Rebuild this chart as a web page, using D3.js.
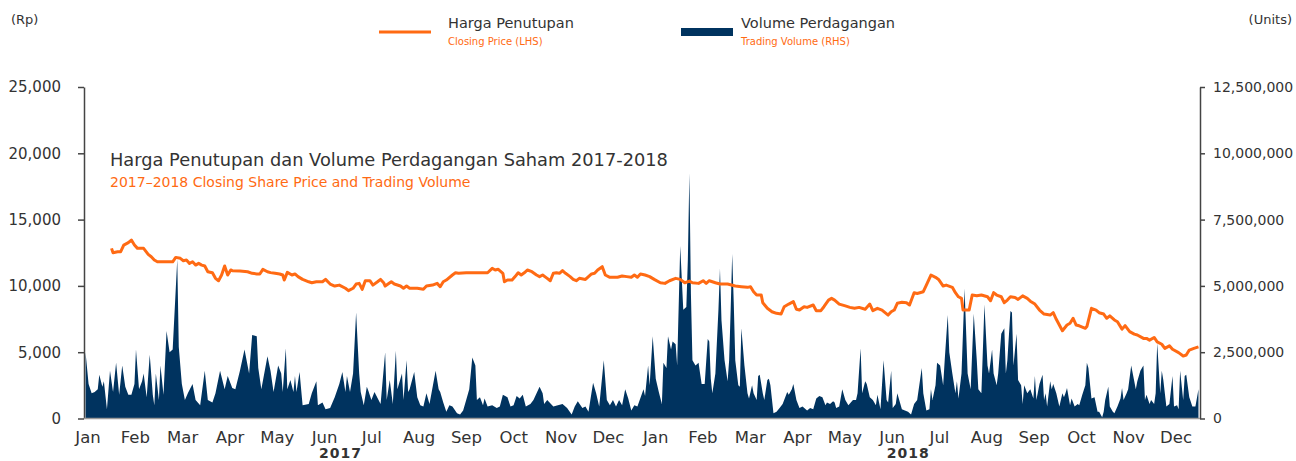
<!DOCTYPE html>
<html>
<head>
<meta charset="utf-8">
<script src="https://cdn.jsdelivr.net/npm/d3@7"></script>
<style>
  body { margin: 0; background: #fff; }
  text { font-family: "DejaVu Sans", sans-serif; }
</style>
</head>
<body>
<div id="chart"></div>
<script>
// month labels under the axis, two years
const months = ["Jan", "Feb", "Mar", "Apr", "May", "Jun", "Jul", "Aug", "Sep", "Oct", "Nov", "Dec"];
const years = ["2017", "2018"];

const priceTicks = [0, 5000, 10000, 15000, 20000, 25000];
const volumeTicks = [0, 2.5, 5, 7.5, 10, 12.5]; // million units

// closing price (Rp): [day since 1 Jan 2017, price]
const price = [
  [18, 12830], [19, 12500], [22, 12580], [24, 12580], [26, 13080], [29, 13260], [31, 13460], [33, 13080],
  [35, 12830], [39, 12830], [42, 12380], [44, 12200], [46, 11950], [48, 11820], [53, 11820], [58, 11820],
  [60, 12150], [63, 12080], [65, 11900], [67, 11950], [69, 11700], [71, 11820], [73, 11570], [75, 11700],
  [77, 11570], [79, 11500], [81, 11070], [84, 10990], [86, 10570], [88, 10390], [90, 10820], [92, 11500],
  [94, 10820], [96, 11200], [97, 11150], [102, 11120], [107, 11070], [110, 10950], [113, 10900], [115, 10900],
  [117, 11250], [120, 11070], [122, 11000], [125, 10950], [128, 10900], [130, 10820], [131, 10440], [133, 11020],
  [136, 10820], [138, 10900], [140, 10700], [143, 10490], [147, 10310], [149, 10240], [152, 10310], [156, 10310],
  [158, 10490], [161, 10140], [164, 9990], [167, 10060], [171, 9820], [173, 9640], [176, 9820], [178, 10140],
  [180, 10190], [182, 9740], [184, 10390], [187, 10390], [189, 10060], [192, 10310], [194, 10490], [196, 10240],
  [197, 9990], [201, 10310], [203, 10140], [207, 9990], [209, 9820], [211, 9990], [213, 9820], [218, 9820],
  [222, 9740], [224, 9990], [228, 10060], [231, 10190], [233, 9940], [235, 10310], [237, 10440], [241, 10820],
  [243, 10990], [245, 10950], [250, 10990], [257, 10990], [264, 10990], [267, 11320], [269, 11200], [271, 11250],
  [274, 10950], [275, 10310], [277, 10440], [280, 10440], [282, 10700], [284, 10990], [286, 10820], [288, 10990],
  [290, 11200], [293, 11070], [296, 10820], [298, 10700], [300, 10820], [303, 10570], [305, 10390], [307, 10950],
  [309, 10990], [311, 10950], [313, 11150], [315, 10950], [318, 10700], [320, 10490], [322, 10390], [324, 10570],
  [328, 10490], [330, 10700], [332, 10900], [334, 10950], [336, 11200], [339, 11450], [341, 10820], [344, 10650],
  [349, 10650], [352, 10750], [355, 10700], [358, 10650], [360, 10820], [362, 10650], [364, 10900], [367, 10820],
  [370, 10700], [373, 10490], [377, 10240], [380, 10190], [383, 10390], [387, 10570], [390, 10490], [393, 10240],
  [396, 10360], [398, 10240], [402, 10190], [405, 10390], [407, 10190], [409, 10390], [413, 10240], [416, 10140],
  [421, 10140], [426, 9990], [430, 9940], [434, 9890], [436, 9940], [438, 9560], [440, 9310], [443, 9310],
  [444, 8730], [447, 8310], [450, 8050], [453, 7930], [456, 7880], [458, 8430], [461, 8630], [464, 8810],
  [466, 8240], [468, 8180], [471, 8430], [473, 8380], [477, 8560], [479, 8130], [482, 8130], [484, 8430],
  [487, 8930], [489, 9060], [491, 8930], [494, 8630], [498, 8490], [501, 8380], [504, 8310], [507, 8380],
  [511, 8240], [514, 8630], [516, 8130], [519, 8310], [522, 8180], [526, 7800], [528, 8050], [530, 8180],
  [532, 8690], [535, 8760], [538, 8730], [540, 8560], [543, 9490], [545, 9430], [549, 9560], [551, 10060],
  [554, 10820], [557, 10650], [559, 10490], [562, 9990], [564, 10060], [568, 9890], [570, 9490], [572, 9180],
  [574, 9060], [575, 8180], [577, 8180], [579, 8180], [581, 9310], [584, 9250], [587, 9310], [591, 9180],
  [593, 8880], [595, 9490], [597, 9310], [600, 9180], [602, 8730], [604, 8930], [606, 9180], [609, 9120],
  [611, 8980], [614, 9250], [617, 9060], [619, 8850], [622, 8630], [625, 8180], [628, 7880], [632, 7800],
  [634, 7980], [636, 7480], [640, 6620], [643, 7050], [645, 7180], [647, 7560], [649, 7050], [651, 6990],
  [655, 6800], [656, 6930], [659, 8310], [662, 8180], [664, 7980], [667, 7880], [669, 7560], [671, 7740],
  [674, 7430], [676, 7300], [679, 6740], [681, 7000], [684, 6550], [687, 6360], [689, 6300], [693, 6040],
  [695, 6040], [697, 5910], [700, 6110], [702, 5780], [705, 5600], [707, 5290], [710, 5480], [712, 5220],
  [716, 4970], [719, 4710], [721, 4790], [723, 5160], [726, 5290], [729, 5400]
];

// trading volume (million units): [day since 1 Jan 2017, volume]
const volume = [
  [1, 2.5], [3, 1.3], [5, 0.95], [7, 1.0], [9, 1.1], [10, 1.65], [12, 1.2], [13, 1.4], [15, 0.35], [17, 1.8],
  [19, 1.0], [21, 2.1], [23, 0.9], [25, 2.0], [27, 1.2], [29, 0.9], [31, 0.9], [33, 1.3], [34, 2.6], [36, 1.1],
  [38, 1.4], [39, 1.7], [41, 0.8], [43, 2.4], [45, 0.9], [46, 0.5], [47, 1.7], [49, 0.7], [50, 2.0], [52, 0.9],
  [54, 3.3], [56, 2.5], [58, 2.6], [61, 6.0], [62, 2.7], [64, 1.3], [66, 0.7], [68, 0.96], [71, 1.3], [73, 0.7],
  [76, 0.5], [79, 1.8], [81, 0.7], [84, 0.6], [86, 0.95], [89, 1.8], [92, 1.1], [94, 1.6], [97, 1.15], [99, 1.1],
  [102, 1.8], [105, 2.6], [108, 1.7], [110, 3.15], [113, 3.1], [114, 1.9], [116, 1.1], [120, 2.35], [122, 1.8], [124, 1.0],
  [127, 2.0], [129, 1.7], [130, 1.0], [132, 2.65], [133, 1.1], [135, 1.45], [137, 1.0], [138, 1.6], [139, 1.0], [141, 1.75],
  [143, 0.5], [147, 0.55], [149, 0.95], [152, 1.4], [153, 0.5], [156, 0.6], [158, 0.35], [161, 0.4], [164, 0.8], [167, 1.3],
  [169, 1.75], [171, 1.0], [172, 1.6], [174, 1.0], [176, 1.7], [178, 4.0], [180, 1.7], [181, 1.0], [183, 0.5], [185, 1.2],
  [186, 1.05], [188, 0.7], [190, 1.0], [194, 0.55], [197, 2.5], [198, 0.7], [200, 1.45], [202, 0.55], [204, 2.55], [205, 1.1],
  [208, 1.7], [209, 0.7], [211, 2.2], [212, 1.0], [213, 1.1], [216, 1.75], [218, 0.8], [220, 0.5], [222, 0.45], [224, 0.95],
  [226, 0.55], [230, 1.8], [232, 1.1], [233, 1.0], [235, 0.6], [237, 0.25], [239, 0.5], [241, 0.45], [244, 0.2], [246, 0.15],
  [248, 0.3], [250, 0.7], [252, 1.1], [254, 2.3], [256, 2.0], [257, 0.7], [259, 0.8], [261, 0.5], [262, 0.75], [264, 0.45],
  [267, 0.5], [270, 0.4], [272, 0.45], [274, 0.9], [277, 0.8], [279, 0.45], [281, 0.5], [283, 0.85], [285, 0.75], [287, 0.9],
  [289, 0.45], [292, 0.55], [294, 0.7], [298, 1.2], [300, 0.95], [301, 0.55], [303, 0.7], [307, 0.45], [310, 0.5], [313, 0.55],
  [316, 0.4], [319, 0.15], [321, 0.45], [323, 0.65], [326, 0.4], [328, 0.45], [330, 0.25], [333, 1.35], [335, 0.95], [337, 0.45],
  [340, 2.2], [342, 0.7], [344, 0.5], [346, 0.7], [348, 0.45], [350, 0.7], [352, 0.5], [354, 1.1], [356, 0.75], [358, 0.3],
  [360, 0.5], [362, 0.45], [366, 1.1], [367, 0.85], [369, 2.0], [370, 1.25], [372, 3.1], [374, 1.5], [376, 1.0], [378, 0.55],
  [379, 2.1], [381, 1.9], [382, 3.1], [384, 2.6], [385, 2.9], [387, 2.8], [388, 2.0], [390, 6.5], [392, 4.1], [394, 4.2],
  [395, 6.0], [396, 9.25], [397, 4.7], [398, 2.2], [400, 2.0], [402, 2.1], [403, 1.7], [404, 1.3], [406, 1.3], [408, 3.0],
  [409, 2.9], [410, 1.5], [411, 0.95], [413, 1.7], [415, 4.1], [416, 5.65], [417, 3.7], [419, 2.2], [421, 1.4], [422, 2.2],
  [423, 4.1], [424, 6.2], [425, 4.4], [426, 2.2], [428, 1.25], [429, 1.2], [430, 3.4], [432, 2.0], [434, 0.95], [435, 0.75],
  [437, 1.25], [438, 0.95], [440, 0.7], [441, 1.6], [442, 1.65], [444, 0.95], [445, 0.7], [447, 1.45], [448, 1.5], [449, 1.25],
  [451, 0.2], [453, 0.25], [455, 0.4], [457, 0.55], [460, 1.0], [461, 0.9], [463, 1.1], [464, 1.3], [466, 0.7], [468, 0.4],
  [470, 0.45], [473, 0.3], [475, 0.4], [477, 0.35], [479, 0.75], [481, 0.85], [483, 0.8], [485, 0.5], [486, 0.6], [488, 0.55],
  [490, 0.65], [491, 0.6], [492, 0.4], [494, 0.45], [496, 1.1], [498, 0.7], [500, 0.5], [503, 0.7], [505, 0.7], [506, 0.95],
  [508, 2.65], [509, 0.95], [511, 1.4], [512, 1.3], [514, 0.8], [516, 0.7], [518, 0.5], [519, 0.9], [521, 0.35], [523, 2.2],
  [525, 0.7], [526, 0.6], [528, 1.8], [529, 0.4], [531, 0.55], [532, 0.95], [535, 0.35], [537, 0.3], [539, 0.25], [541, 0.15],
  [543, 0.55], [545, 0.7], [548, 1.9], [549, 0.95], [551, 0.3], [553, 0.35], [554, 1.1], [555, 0.7], [557, 1.25], [558, 2.1],
  [560, 2.0], [562, 1.25], [563, 2.2], [565, 3.9], [566, 2.5], [568, 1.7], [570, 0.95], [571, 1.4], [572, 0.75], [574, 1.7],
  [576, 4.9], [577, 3.3], [578, 1.7], [580, 1.1], [582, 3.95], [584, 2.2], [585, 1.1], [587, 0.95], [589, 4.3], [591, 2.0],
  [592, 1.7], [594, 2.6], [595, 1.7], [597, 1.25], [598, 1.7], [600, 3.2], [602, 3.4], [603, 1.7], [604, 2.2], [606, 4.05],
  [607, 4.0], [608, 2.0], [610, 3.2], [611, 1.45], [613, 1.25], [614, 0.55], [615, 1.25], [617, 0.95], [619, 1.1], [621, 0.75],
  [622, 1.6], [623, 0.7], [625, 1.3], [627, 1.65], [628, 0.7], [629, 0.95], [630, 0.45], [632, 1.4], [633, 1.1], [634, 1.3],
  [636, 0.95], [638, 0.45], [640, 0.95], [641, 0.8], [642, 0.95], [643, 1.15], [645, 0.5], [646, 0.75], [648, 0.45], [650, 0.55],
  [651, 0.5], [653, 0.9], [655, 1.25], [656, 2.1], [657, 1.9], [659, 0.75], [661, 0.8], [663, 0.25], [664, 0.25], [666, 0.05],
  [667, 0.25], [668, 0.7], [670, 1.2], [671, 0.45], [673, 0.25], [674, 0.2], [676, 0.45], [678, 0.75], [679, 1.15], [680, 0.7],
  [682, 0.95], [683, 1.1], [685, 2.0], [687, 1.4], [688, 1.1], [689, 1.4], [691, 1.8], [693, 2.0], [694, 0.7], [695, 0.9],
  [697, 0.55], [698, 0.7], [700, 0.55], [701, 0.95], [702, 2.85], [704, 0.95], [705, 1.8], [706, 1.45], [708, 0.45], [710, 0.55],
  [712, 1.6], [713, 0.45], [715, 0.5], [716, 0.35], [717, 1.8], [719, 0.7], [720, 1.6], [721, 1.65], [723, 0.8], [725, 0.45],
  [726, 0.45], [727, 0.45], [729, 1.1]
];

const orange = "#ff6a13";
const navy = "#00335f";
const grey = "#333";

const W = 1296, H = 461;
const svg = d3.select("#chart").append("svg").attr("width", W).attr("height", H);

const x = d3.scaleLinear().domain([0, 730]).range([84, 1200]);
const yPrice = d3.scaleLinear().domain([0, 25000]).range([418.5, 87]);
const yVol = d3.scaleLinear().domain([0, 12.5]).range([418.5, 87]);

// volume area
const area = d3.area()
  .x(d => x(d[0]))
  .y0(yVol(0))
  .y1(d => yVol(d[1]));
svg.append("path").datum(volume).attr("fill", navy).attr("d", area);

// price line
const line = d3.line().x(d => x(d[0])).y(d => yPrice(d[1]));
svg.append("path").datum(price)
  .attr("fill", "none").attr("stroke", orange).attr("stroke-width", 3)
  .attr("stroke-linejoin", "round").attr("d", line);

// axes
const leftAxis = svg.append("g").attr("transform", "translate(84,0)")
  .call(d3.axisLeft(yPrice).tickValues(priceTicks).tickSize(6).tickSizeOuter(0).tickPadding(17).tickFormat(d3.format(",")));
const rightAxis = svg.append("g").attr("transform", "translate(1200,0)")
  .call(d3.axisRight(yVol).tickValues(volumeTicks).tickSize(5).tickSizeOuter(0).tickPadding(8).tickFormat(d => d3.format(",")(d * 1e6)));
[leftAxis, rightAxis].forEach(g => {
  g.select(".domain").attr("stroke", "#444").attr("stroke-width", 1.5);
  g.selectAll(".tick line").attr("stroke", "#444").attr("stroke-width", 1.5);
  g.selectAll(".tick text").attr("fill", grey);
});
leftAxis.selectAll(".tick text").style("font-size", "15px");
rightAxis.selectAll(".tick text").style("font-size", "14px");

svg.append("line")
  .attr("x1", x(0)).attr("x2", x(730)).attr("y1", yPrice(0)).attr("y2", yPrice(0))
  .attr("stroke", "#999").attr("stroke-width", 1.5);

// month labels
const monthLabels = years.flatMap(y => months.map(m => m + " " + y));
const xm = d3.scalePoint().domain(monthLabels).range([88, 1176]);
svg.append("g").selectAll("text").data(monthLabels).join("text")
  .attr("x", d => xm(d)).attr("y", 443)
  .attr("text-anchor", "middle").attr("fill", grey).style("font-size", "16.5px")
  .text(d => d.split(" ")[0]);

svg.append("g").selectAll("text").data(years).join("text")
  .attr("x", d => xm("Jun " + d) + 16)
  .attr("y", 458).attr("text-anchor", "middle")
  .attr("fill", grey).style("font-size", "14px").style("font-weight", "bold").style("letter-spacing", "1px")
  .text(d => d);

// units
svg.append("text").attr("x", 11).attr("y", 24).attr("fill", grey).style("font-size", "13px").text("(Rp)");
svg.append("text").attr("x", 1292).attr("y", 24).attr("text-anchor", "end").attr("fill", grey).style("font-size", "13px").text("(Units)");

// title
svg.append("text").attr("x", 110).attr("y", 166).attr("fill", grey).style("font-size", "17.8px")
  .text("Harga Penutupan dan Volume Perdagangan Saham 2017-2018");
svg.append("text").attr("x", 110).attr("y", 187).attr("fill", orange).style("font-size", "14px")
  .text("2017\u20132018 Closing Share Price and Trading Volume");

// legend
const legend = svg.append("g");
legend.append("line").attr("x1", 379).attr("x2", 431).attr("y1", 32).attr("y2", 32)
  .attr("stroke", orange).attr("stroke-width", 3);
legend.append("text").attr("x", 448).attr("y", 28).attr("fill", grey).style("font-size", "14.5px").text("Harga Penutupan");
legend.append("text").attr("x", 448).attr("y", 45).attr("fill", orange).style("font-size", "10px").text("Closing Price (LHS)");
legend.append("rect").attr("x", 681).attr("y", 28).attr("width", 52).attr("height", 8).attr("fill", navy);
legend.append("text").attr("x", 741).attr("y", 28).attr("fill", grey).style("font-size", "14.5px").text("Volume Perdagangan");
legend.append("text").attr("x", 741).attr("y", 45).attr("fill", orange).style("font-size", "10px").text("Trading Volume (RHS)");
</script>
</body>
</html>
